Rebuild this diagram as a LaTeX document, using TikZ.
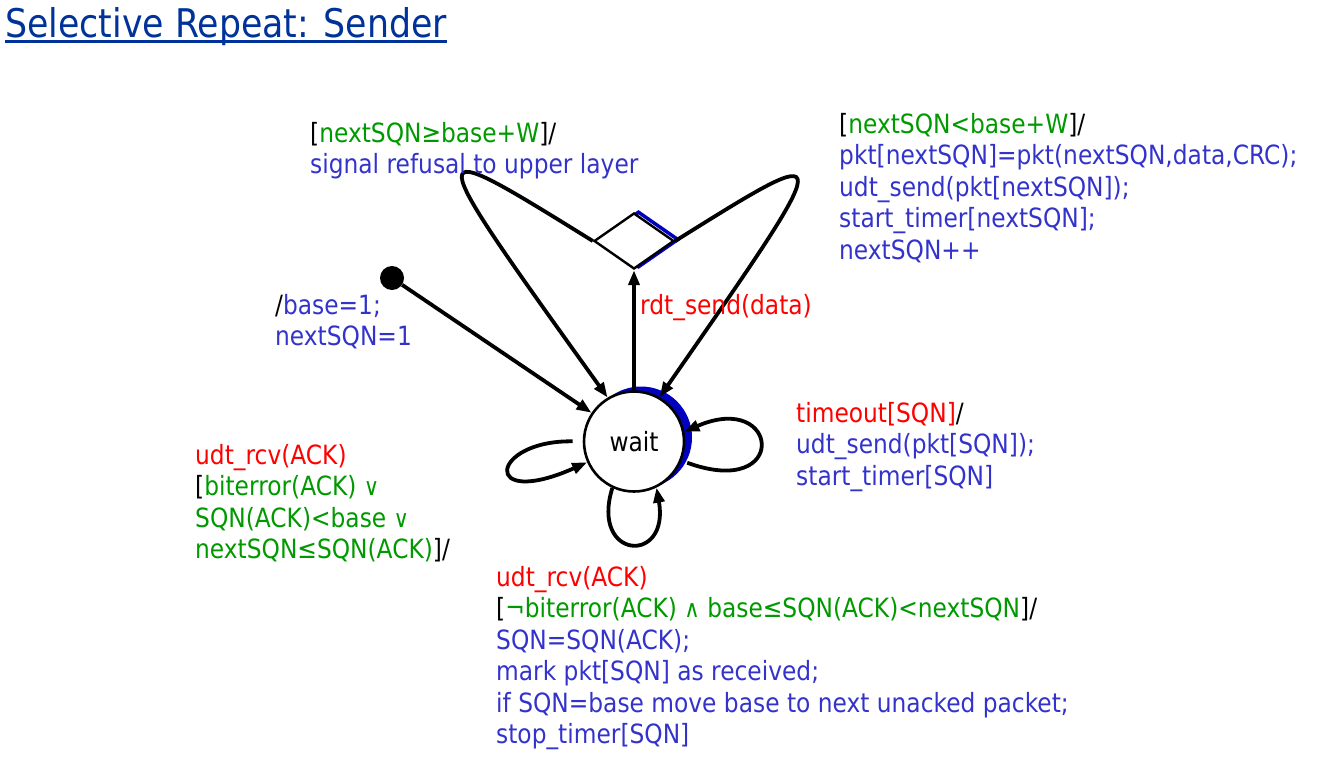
\documentclass[tikz,border=0pt]{standalone}
\usepackage{fontspec}
\setmainfont{DejaVu Sans}[FakeStretch=0.88]
\usetikzlibrary{shapes.geometric,arrows.meta,calc}
\definecolor{evred}{RGB}{255,0,0}
\definecolor{grdgreen}{RGB}{0,153,0}
\definecolor{actblue}{RGB}{51,51,204}
\definecolor{titleblue}{RGB}{0,51,153}
\definecolor{shadeblue}{RGB}{0,0,190}
\newcommand{\ev}[1]{\textcolor{evred}{#1}}
\newcommand{\grd}[1]{\textcolor{grdgreen}{#1}}
\newcommand{\act}[1]{\textcolor{actblue}{#1}}
\newcommand{\orsym}{{\fontsize{24}{24}\selectfont ∨}}
\newcommand{\andsym}{{\fontsize{24}{24}\selectfont ∧}}
\begin{document}
\begin{tikzpicture}[x=1pt,y=-1pt,
  lbl/.style={anchor=base west,align=left,inner sep=0pt,font=\fontsize{26.5}{31.5}\selectfont},
  trans/.style={line width=3.8pt,-{Triangle[length=15pt,width=11pt]}}]
\useasboundingbox (0,0) rectangle (1324,763);
% title
\node[anchor=base west,inner sep=0pt,text=titleblue,font=\fontsize{39.5}{44}\selectfont] (title) at (5,37) {Selective Repeat: Sender};
\draw[titleblue,line width=2.5pt] ([yshift=-4.5pt]title.base west) -- ([yshift=-4.5pt]title.base east);

% states
\fill[shadeblue] (641,437.5) circle (51);
\node[circle,draw,fill=white,line width=2.6pt,minimum size=100pt,inner sep=0pt,font=\fontsize{26.5}{31.5}\selectfont] (wait) at (634,441.5) {wait};
\node[diamond,draw=shadeblue,line width=3.5pt,minimum width=80pt,minimum height=56pt,aspect=1.43,inner sep=0pt] at (638.5,239.5) {};
\node[diamond,draw,fill=white,line width=2.4pt,minimum width=80pt,minimum height=56pt,aspect=1.43,inner sep=0pt] (choice) at (634,241) {};
\node[circle,fill,minimum size=24pt,inner sep=0pt] (init) at (392,278) {};

% transitions
\draw[trans] (init) -- (wait);
\draw[trans] (wait.north) -- (choice.south);
\draw[trans] (choice.west) .. controls (417,132) and (417,132) .. (wait.121);
\draw[trans] (choice.east) .. controls (840,138) and (840,138) .. (wait.60);
\draw[trans,shorten <=6pt] (wait.-22) .. controls (790,500) and (780,390) .. (wait.11);
\draw[trans,shorten <=10pt] (wait.180) .. controls (490,440) and (480,510) .. (wait.-156);
\draw[trans] (wait.-115) .. controls (590,560) and (670,565) .. (wait.-64);

% labels (anchored at the baseline of the last line)
\node[lbl] (refuse) at (310,173.5) {[\grd{nextSQN≥base+W}]/\\\act{signal refusal to upper layer}};
\node[lbl] (accept) at (839,259) {[\grd{nextSQN<base+W}]/\\\act{pkt[nextSQN]=pkt(nextSQN,data,CRC);}\\\act{udt\_send(pkt[nextSQN]);}\\\act{start\_timer[nextSQN];}\\\act{nextSQN++}};
\node[lbl] (initlbl) at (275,345.5) {/\act{base=1;}\\\act{nextSQN=1}};
\node[lbl] (sendlbl) at (640,314) {\ev{rdt\_send(data)}};
\node[lbl] (timeout) at (796,485) {\ev{timeout[SQN]}/\\\act{udt\_send(pkt[SQN]);}\\\act{start\_timer[SQN]}};
\node[lbl] (badack) at (195,558.5) {\ev{udt\_rcv(ACK)}\\{[}\grd{biterror(ACK) \orsym}\\\grd{SQN(ACK)<base \orsym}\\\grd{nextSQN≤SQN(ACK)}]/};
\node[lbl] (goodack) at (496,743.5) {\ev{udt\_rcv(ACK)}\\{[}\grd{¬biterror(ACK) \andsym{} base≤SQN(ACK)<nextSQN}]/\\\act{SQN=SQN(ACK);}\\\act{mark pkt[SQN] as received;}\\\act{if SQN=base move base to next unacked packet;}\\\act{stop\_timer[SQN]}};
\end{tikzpicture}
\end{document}
